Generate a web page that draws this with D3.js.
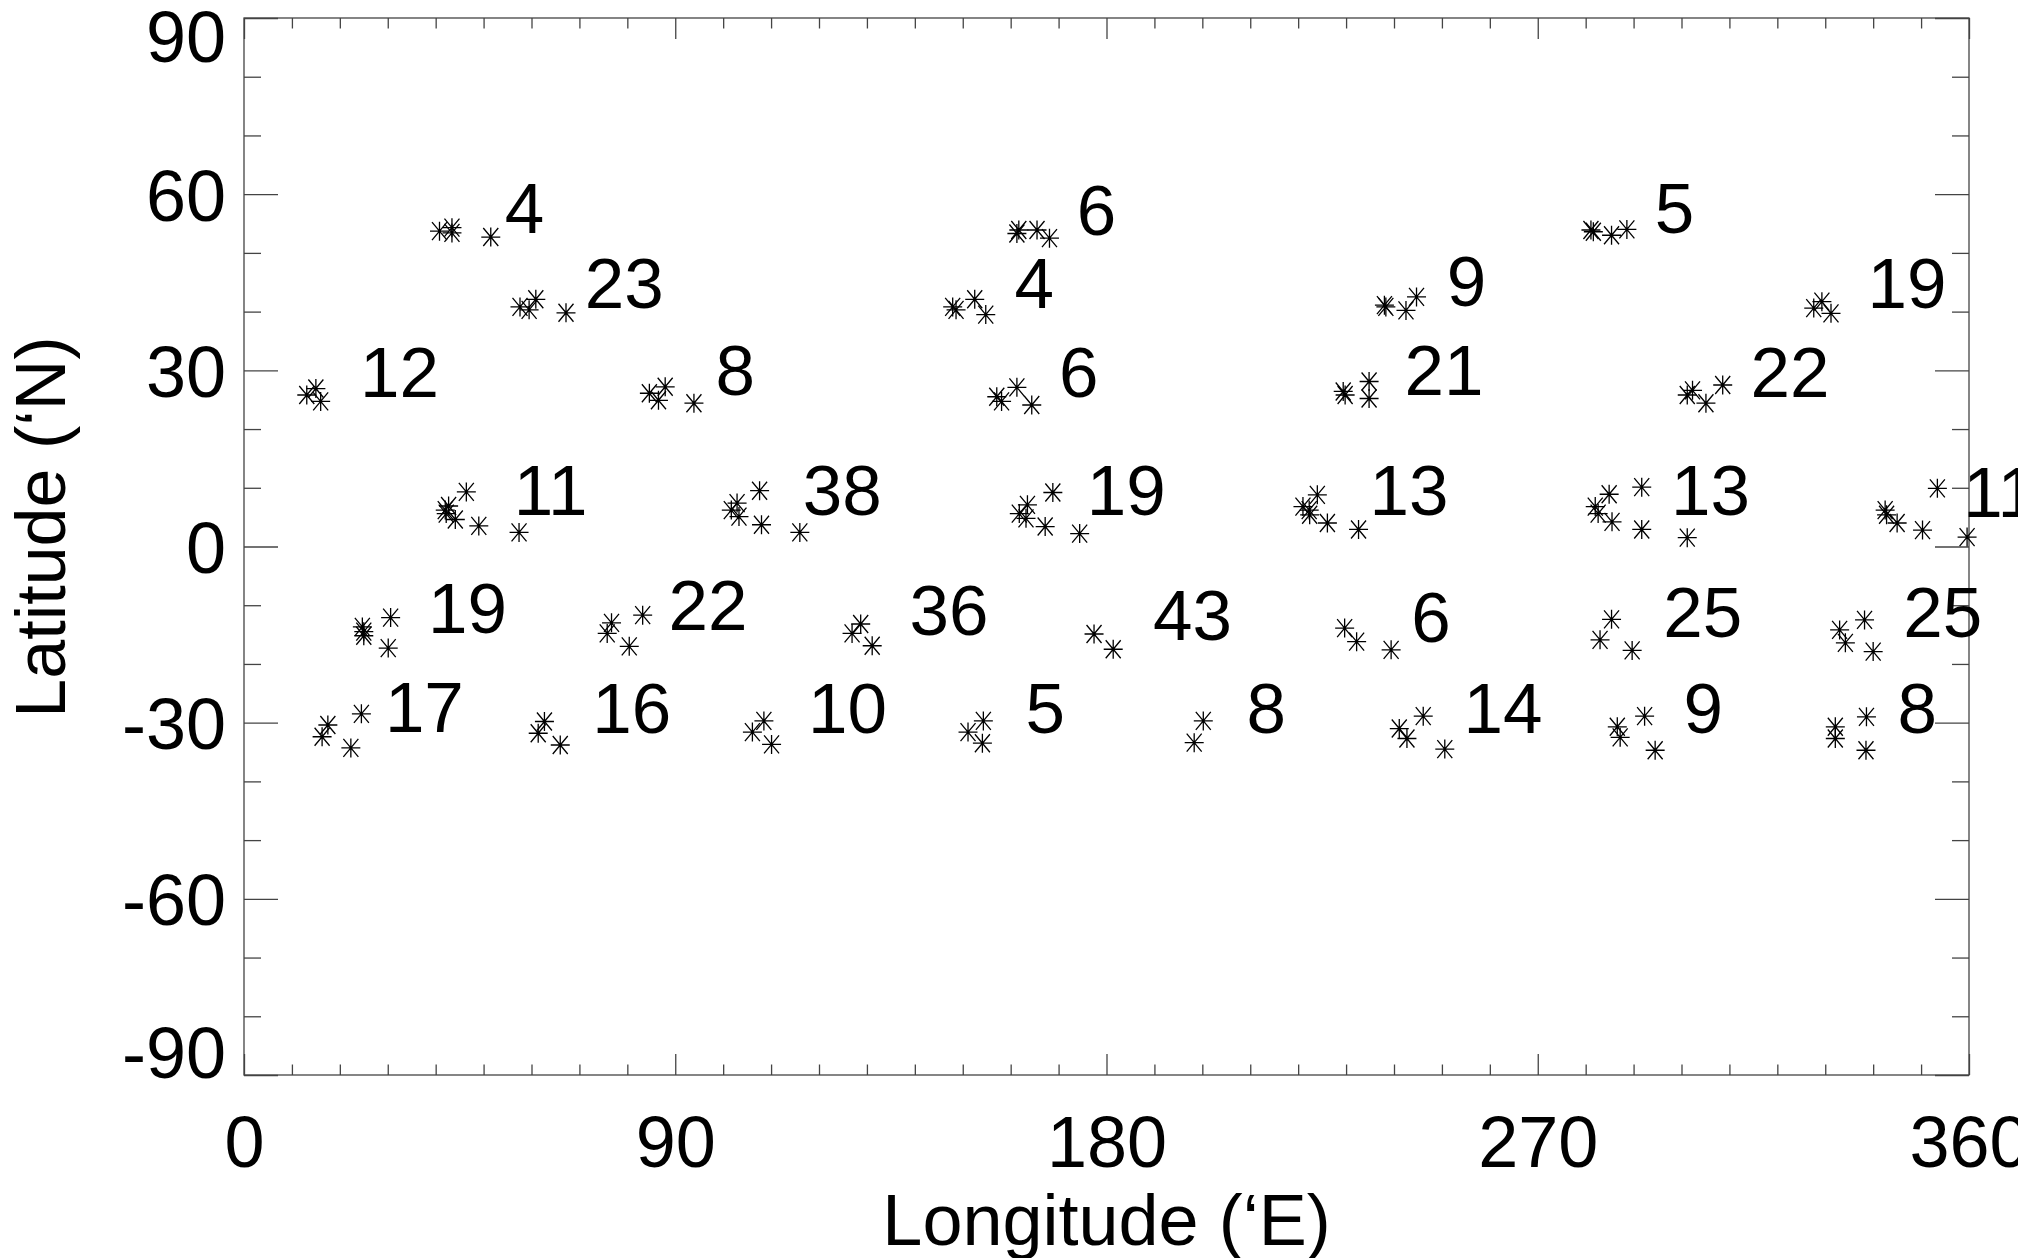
<!DOCTYPE html>
<html>
<head>
<meta charset="utf-8">
<script src="https://cdn.jsdelivr.net/npm/d3@7"></script>
<style>
  body { margin: 0; background: #fff; }
  text { font-family: "Liberation Sans", Arial, sans-serif; fill: #000; }
</style>
</head>
<body>
<div id="chart"></div>
<script>
// Source positions (longitude 'E, latitude 'N)
const lon = [
    40.8, 43.4, 43.4, 51.5,  161.3, 161.7, 165.5, 168.1,  281.1, 281.6, 285.4, 288.6,
    57.6, 59.5, 60.9, 67.2,  147.9, 148.6, 152.5, 154.8,  238.0, 238.3, 242.5, 244.7,  327.6, 329.3, 331.2,
    13.1, 15.0, 16.0,  84.6, 86.5, 87.9, 93.9,  157.1, 158.1, 161.3, 164.4,  229.4, 229.8, 234.8, 234.8,  301.2, 302.3, 305.1, 308.6,
    42.0, 42.7, 42.2, 44.1, 46.4, 49.0, 57.4,  101.7, 102.9, 103.3, 107.6, 108.0, 116.0,
    161.8, 163.5, 163.2, 167.2, 168.8, 174.4,  221.0, 222.3, 222.4, 224.0, 226.1, 232.6,
    282.0, 282.6, 284.9, 285.5, 291.7, 291.7, 301.2,  342.5, 342.8, 345.0, 350.3, 353.4, 359.6,
    24.7, 25.0, 25.0, 30.6, 30.1,  76.7, 75.8, 80.4, 83.2,  126.9, 128.7, 131.1,  177.4, 181.4,
    229.7, 232.2, 239.4,  283.0, 285.4, 289.7,  333.0, 334.2, 338.2, 340.0,
    17.5, 16.3, 22.3, 24.5,  62.7, 61.4, 66.0,  106.1, 108.5, 110.1,  151.1, 154.3, 154.1,  198.3, 200.2,
    241.1, 242.7, 246.1, 250.6,  286.6, 287.2, 292.3, 294.5,  332.1, 332.1, 338.6, 338.5
];
const lat = [
    53.7, 54.3, 53.4, 52.7,  53.3, 53.9, 53.9, 52.5,  53.9, 53.6, 53.0, 54.0,
    40.8, 40.3, 42.1, 39.8,  40.8, 40.3, 42.1, 39.5,  41.1, 40.8, 40.2, 42.5,  40.6, 41.7, 39.7,
    25.8, 26.9, 24.7,  26.1, 24.9, 27.2, 24.4,  25.5, 24.7, 27.1, 24.1,  26.4, 25.8, 28.1, 25.2,  25.8, 26.6, 24.4, 27.5,
    6.2, 6.9, 5.6, 4.6, 9.3, 3.5, 2.4,  6.2, 7.4, 5.1, 9.5, 3.7, 2.4,
    5.6, 7.1, 4.8, 3.4, 9.2, 2.2,  6.8, 6.2, 5.4, 8.8, 4.0, 2.9,
    6.8, 5.6, 8.9, 4.2, 10.1, 2.9, 1.5,  6.2, 5.4, 4.0, 2.8, 9.9, 1.6,
    -13.7, -14.5, -15.2, -12.1, -17.3,  -13.0, -14.8, -17.0, -11.7,  -14.8, -13.2, -16.9,  -14.9, -17.5,
    -13.9, -16.2, -17.6,  -15.9, -12.4, -17.7,  -14.2, -16.4, -12.5, -17.9,
    -30.4, -32.4, -34.3, -28.5,  -29.8, -31.8, -33.8,  -31.6, -29.7, -33.7,  -31.6, -29.7, -33.5,  -33.4, -29.7,
    -31.0, -32.7, -28.9, -34.5,  -30.7, -32.5, -28.9, -34.7,  -30.7, -32.7, -29.0, -34.7
];

// Counts written next to each group
const countText = ['4', '6', '5',  '23', '4', '9', '19',  '12', '8', '6', '21', '22',
    '11', '38', '19', '13', '13', '11',  '19', '22', '36', '43', '6', '25', '25',
    '17', '16', '10', '5', '8', '14', '9', '8'];
const countLon = [54.4, 173.8, 294.4,  71.1, 160.8, 251.0, 338.8,  24.2, 98.4, 170.1, 242.2, 314.4,
    56.3, 116.6, 175.9, 234.9, 297.8, 358.8,  38.4, 88.6, 138.9, 189.7, 243.6, 296.2, 346.3,
    29.4, 72.7, 117.7, 163.1, 209.2, 254.5, 300.4, 345.1];
const countLat = [53.4, 53.0, 53.4,  40.6, 40.6, 41.0, 40.6,  25.5, 25.8, 25.5, 25.8, 25.5,
    5.4, 5.4, 5.4, 5.4, 5.4, 5.0,  -14.7, -14.2, -15.1, -16.0, -16.3, -15.4, -15.4,
    -31.6, -31.7, -31.8, -31.8, -31.8, -31.8, -31.8, -31.8];

const xTicks = [0, 90, 180, 270, 360];
const yTicks = [-90, -60, -30, 0, 30, 60, 90];

const W = 2038, H = 1258;
const m = { left: 244, right: 1969, top: 18, bottom: 1075 };

const svg = d3.select('#chart')
    .append('svg')
    .attr('width', W)
    .attr('height', H);

svg.append('clipPath').attr('id', 'clip')
    .append('rect').attr('x', 0).attr('y', 0).attr('width', 2018).attr('height', H);

const g = svg.append('g').attr('clip-path', 'url(#clip)');

const x = d3.scaleLinear().domain([0, 360]).range([m.left, m.right]);
const y = d3.scaleLinear().domain([-90, 90]).range([m.bottom, m.top]);

const xMinor = d3.range(0, 361, 10).filter(d => d % 90 !== 0);
const yMinor = d3.range(-90, 91, 10).filter(d => d % 30 !== 0);

// ticks on all four sides, pointing in
function styleAxis(sel) {
    sel.select('.domain').remove();
    sel.selectAll('.tick line').attr('stroke', '#444').attr('stroke-width', 1.3);
}

g.append('g').attr('transform', `translate(0,${m.bottom})`)
    .call(d3.axisBottom(x).tickValues(xMinor).tickSize(-10.5).tickFormat(''))
    .call(styleAxis);
g.append('g').attr('transform', `translate(0,${m.top})`)
    .call(d3.axisTop(x).tickValues(xMinor).tickSize(-10.5).tickFormat(''))
    .call(styleAxis);
g.append('g').attr('transform', `translate(0,${m.top})`)
    .call(d3.axisTop(x).tickValues(xTicks).tickSize(-21).tickFormat(''))
    .call(styleAxis);
g.append('g').attr('transform', `translate(${m.left},0)`)
    .call(d3.axisLeft(y).tickValues(yMinor).tickSize(-17).tickFormat(''))
    .call(styleAxis);
g.append('g').attr('transform', `translate(${m.right},0)`)
    .call(d3.axisRight(y).tickValues(yMinor).tickSize(-17).tickFormat(''))
    .call(styleAxis);
g.append('g').attr('transform', `translate(${m.right},0)`)
    .call(d3.axisRight(y).tickValues(yTicks).tickSize(-34).tickFormat(''))
    .call(styleAxis);

const xAxis = g.append('g').attr('transform', `translate(0,${m.bottom})`)
    .call(d3.axisBottom(x).tickValues(xTicks).tickSize(-21).tickPadding(41).tickFormat(d => String(d)))
    .call(styleAxis);
xAxis.selectAll('text').attr('font-size', 72).attr('font-family', '"Liberation Sans", Arial, sans-serif').attr('fill', '#000');

const yAxis = g.append('g').attr('transform', `translate(${m.left},0)`)
    .call(d3.axisLeft(y).tickValues(yTicks).tickSize(-34).tickPadding(18).tickFormat(d => String(d)))
    .call(styleAxis);
yAxis.selectAll('text')
    .attr('font-size', 72)
    .attr('font-family', '"Liberation Sans", Arial, sans-serif')
    .attr('fill', '#000')
    .attr('dy', d => d === 90 ? 43 : d === -90 ? 2 : 26);

// frame
g.append('rect')
    .attr('x', m.left).attr('y', m.top)
    .attr('width', m.right - m.left).attr('height', m.bottom - m.top)
    .attr('fill', 'none').attr('stroke', '#444').attr('stroke-width', 1.3);

// asterisk symbols
const ast = 'M-9.5,0L9.5,0M0,-9.5L0,9.5M-7.5,-9L7.5,9M-7.5,9L7.5,-9';
g.append('g').selectAll('path')
    .data(lon)
    .enter().append('path')
    .attr('transform', (d, i) => `translate(${x(d)},${y(lat[i])})`)
    .attr('d', ast)
    .attr('fill', 'none')
    .attr('stroke', '#000')
    .attr('stroke-width', 1.3);

g.append('g').selectAll('text')
    .data(countText)
    .enter().append('text')
    .attr('x', (d, i) => x(countLon[i]))
    .attr('y', (d, i) => y(countLat[i]))
    .attr('font-size', 71)
    .text(d => d);

g.append('text')
    .attr('x', (m.left + m.right) / 2)
    .attr('y', 1245)
    .attr('text-anchor', 'middle')
    .attr('font-size', 72)
    .text('Longitude (‘E)');

g.append('text')
    .attr('transform', 'translate(65,527) rotate(-90)')
    .attr('text-anchor', 'middle')
    .attr('font-size', 70)
    .text('Latitude (‘N)');
</script>
</body>
</html>
